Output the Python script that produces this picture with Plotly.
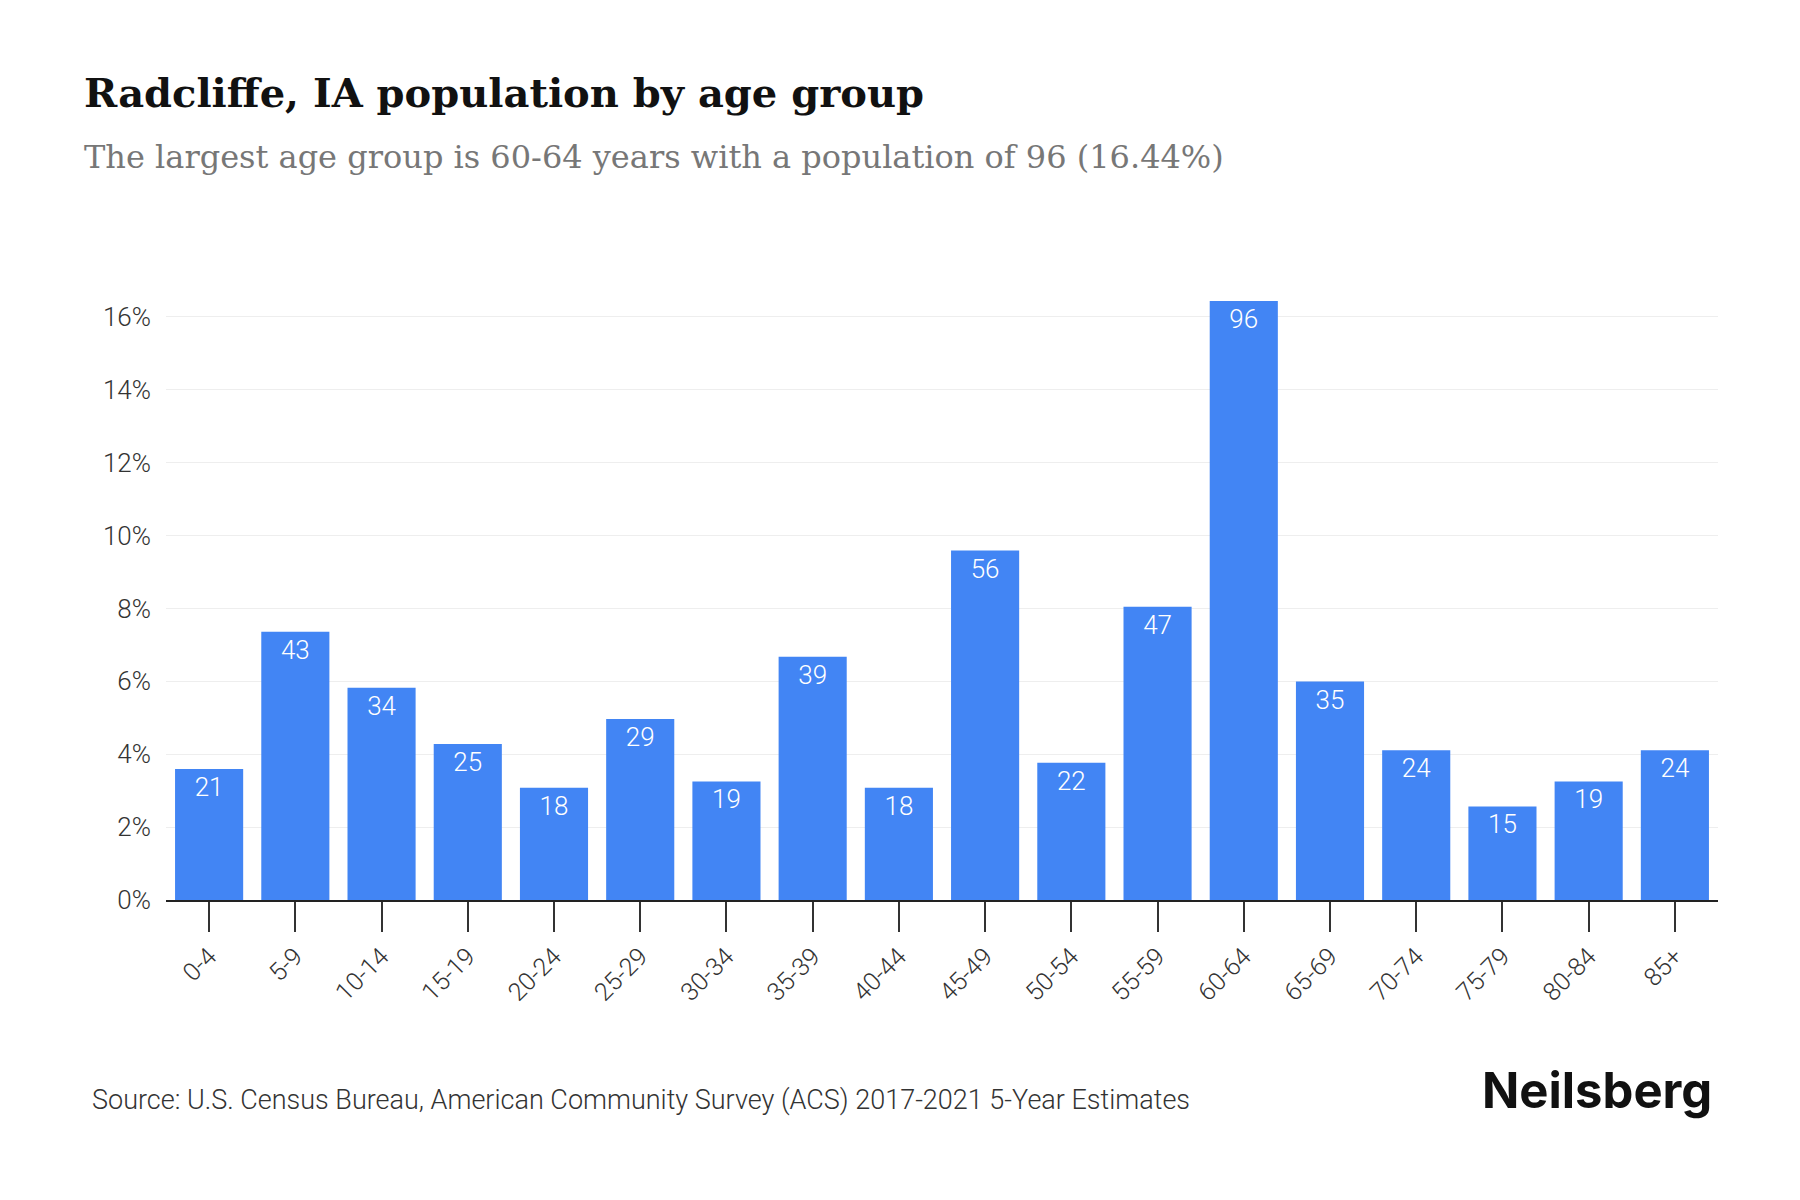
import plotly.graph_objects as go

age_groups = ["0-4", "5-9", "10-14", "15-19", "20-24", "25-29", "30-34", "35-39", "40-44",
              "45-49", "50-54", "55-59", "60-64", "65-69", "70-74", "75-79", "80-84", "85+"]
population = [21, 43, 34, 25, 18, 29, 19, 39, 18, 56, 22, 47, 96, 35, 24, 15, 19, 24]
y_ticks = [0, 2, 4, 6, 8, 10, 12, 14, 16]

total = sum(population)
shares = [p / total * 100 for p in population]

fig = go.Figure()
fig.add_trace(go.Bar(
    x=age_groups,
    y=shares,
    text=[str(p) for p in population],
    textposition="inside",
    insidetextanchor="end",
    textangle=0,
    textfont=dict(family="Roboto", size=26, color="white", weight=300),
    marker=dict(color="#4285F4", line=dict(width=0)),
    hoverinfo="skip",
))

# page body has an 8px margin, so figure pixel = screen pixel - 8
OFF = 8
W, H = 1800, 1200
L = 166 - OFF
R = W - (1718 - OFF)
T = 290 - OFF
B = H - (900 - OFF)
pw = W - L - R
ph = H - T - B

def px(x):
    return (x - OFF - L) / pw

def py(y):
    return (H - B - (y - OFF)) / ph

fig.update_layout(
    width=W, height=H,
    margin=dict(l=L, r=R, t=T, b=B),
    paper_bgcolor="white",
    plot_bgcolor="white",
    bargap=0.21,
    showlegend=False,
    xaxis=dict(
        type="category",
        range=[-0.5, len(age_groups) - 0.5],
        showgrid=False,
        showline=True,
        linecolor="#222",
        linewidth=1.5,
        ticks="outside",
        ticklen=30,
        tickwidth=1.5,
        tickcolor="#333",
        tickangle=-45,
        tickfont=dict(family="Roboto", size=25, color="#333", weight=300),
    ),
    yaxis=dict(
        range=[0, 16.74],
        tickvals=y_ticks,
        ticktext=[f"{v}%" for v in y_ticks],
        showgrid=True,
        gridcolor="#eeeeee",
        gridwidth=1,
        zeroline=False,
        showline=False,
        ticks="",
        ticklabelstandoff=14,
        tickfont=dict(family="Roboto", size=26, color="#333", weight=300),
    ),
    annotations=[
        dict(text="Radcliffe, IA population by age group", xref="paper", yref="paper",
             x=px(82), y=py(92), xanchor="left", yanchor="middle", showarrow=False,
             font=dict(family="DejaVu Serif", size=40, color="#111", weight=600)),
        dict(text="The largest age group is 60-64 years with a population of 96 (16.44%)",
             xref="paper", yref="paper", x=px(82), y=py(157), xanchor="left", yanchor="middle",
             showarrow=False, font=dict(family="DejaVu Serif", size=32, color="#777")),
        dict(text="Source: U.S. Census Bureau, American Community Survey (ACS) 2017-2021 5-Year Estimates",
             xref="paper", yref="paper", x=px(90), y=py(1100), xanchor="left", yanchor="middle",
             showarrow=False, font=dict(family="Roboto", size=27, color="#333", weight=300)),
        dict(text="<b>Neilsberg</b>", xref="paper", yref="paper", x=px(1714), y=py(1090),
             xanchor="right", yanchor="middle", showarrow=False,
             font=dict(family="Inter", size=49, color="#111")),
    ],
)

fig.write_html("out.html")
